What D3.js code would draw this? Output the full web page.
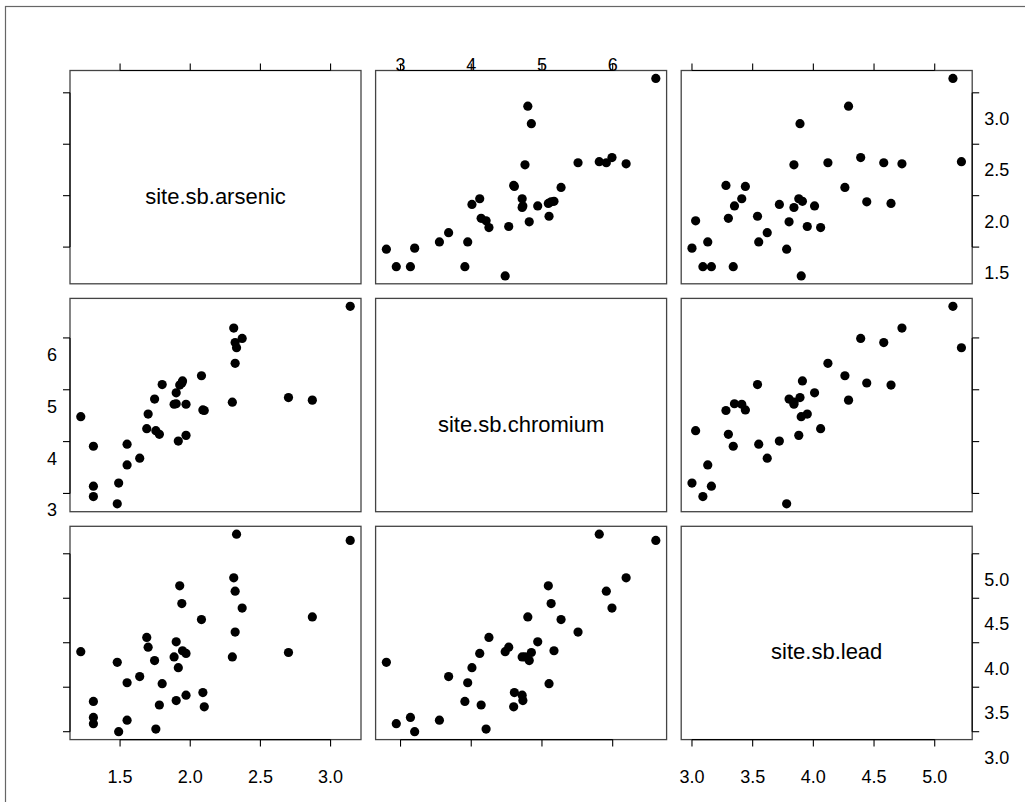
<!DOCTYPE html>
<html>
<head>
<meta charset="utf-8">
<script src="https://cdn.jsdelivr.net/npm/d3@7"></script>
<style>
  body { margin: 0; background: #fff; }
  svg { display: block; font-family: "Liberation Sans", Arial, sans-serif; }
</style>
</head>
<body>
<div id="chart"></div>
<script>
const arsenic = [2.33, 3.14, 2.31, 2.32, 2.37, 1.925, 1.94, 2.08, 2.87, 2.32, 1.69, 1.90,
  1.70, 1.22, 1.945, 1.97, 2.70, 2.30, 1.885, 1.48, 1.746, 1.915, 1.64, 1.55,
  1.80, 2.09, 1.97, 1.31, 1.90, 1.78, 2.10, 1.31, 1.31, 1.55, 1.49, 1.755];
const chromium = [5.81, 6.61, 6.19, 5.91, 5.99, 5.09, 5.13, 5.27, 4.80, 5.51, 4.25, 4.94,
  4.53, 4.48, 5.17, 4.12, 4.85, 4.76, 4.72, 2.80, 4.82, 4.01, 3.68, 3.95,
  5.10, 4.61, 4.72, 3.91, 4.73, 4.14, 4.60, 3.14, 2.94, 3.55, 3.20, 4.21];
const lead = [5.22, 5.15, 4.73, 4.58, 4.39, 4.64, 4.44, 4.26, 4.29, 4.12, 4.06, 4.01,
  3.95, 3.90, 3.91, 3.88, 3.89, 3.84, 3.84, 3.78, 3.80, 3.72, 3.62, 3.55,
  3.54, 3.44, 3.41, 3.34, 3.35, 3.30, 3.28, 3.16, 3.09, 3.13, 3.00, 3.03];

const varNames = ["site.sb.arsenic", "site.sb.chromium", "site.sb.lead"];
const arsenicTicks = [1.5, 2.0, 2.5, 3.0];
const chromiumTicks = [3, 4, 5, 6];
const leadTicks = [3.0, 3.5, 4.0, 4.5, 5.0];

(() => {
  const width = 1025, height = 802;
  const left = 70, top = 70.5, cw = 291, ch = 213.3, gap = 14.6;
  const tickLen = 7;

  const vars = [arsenic, chromium, lead];
  const ticks = [arsenicTicks, chromiumTicks, leadTicks];
  const fmt = [d3.format(".1f"), d3.format("d"), d3.format(".1f")];

  const colX = i => left + i * (cw + gap);
  const rowY = i => top + i * (ch + gap);

  // R style: range widened by 4% on each side
  const dom = v => {
    const [lo, hi] = d3.extent(v);
    const r = hi - lo;
    return [lo - 0.04 * r, hi + 0.04 * r];
  };
  const xs = vars.map((v, i) => d3.scaleLinear().domain(dom(v)).range([colX(i), colX(i) + cw]));
  const ys = vars.map((v, i) => d3.scaleLinear().domain(dom(v)).range([rowY(i) + ch, rowY(i)]));

  const svg = d3.select("#chart").append("svg")
    .attr("width", width).attr("height", height);

  // outer frame of the device
  svg.append("rect")
    .attr("x", 5.5).attr("y", 6.5)
    .attr("width", width + 20).attr("height", height + 20)
    .attr("fill", "none").attr("stroke", "#666").attr("stroke-width", 1.2);

  const n = vars.length;
  for (let r = 0; r < n; r++) {
    for (let c = 0; c < n; c++) {
      const g = svg.append("g");
      if (r === c) {
        g.append("text")
          .attr("x", colX(c) + cw / 2)
          .attr("y", rowY(r) + ch / 2 + 19)
          .attr("text-anchor", "middle")
          .attr("dominant-baseline", "central")
          .attr("font-size", 22)
          .attr("fill", "#000")
          .text(varNames[r]);
      } else {
        const pts = d3.range(arsenic.length).map(i => [vars[c][i], vars[r][i]]);
        g.selectAll("circle")
          .data(pts)
          .join("circle")
          .attr("cx", d => xs[c](d[0]))
          .attr("cy", d => ys[r](d[1]))
          .attr("r", 4.6)
          .attr("fill", "#000");
      }
      g.append("rect")
        .attr("x", colX(c)).attr("y", rowY(r))
        .attr("width", cw).attr("height", ch)
        .attr("fill", "none").attr("stroke", "#444").attr("stroke-width", 1.3);
    }
  }

  // draws an axis the way base R does: line from first to last tick, ticks outward
  function drawAxis(side, k, pos, withLabels) {
    const g = svg.append("g").attr("stroke", "#000").attr("stroke-width", 1.1);
    const tv = ticks[k];
    if (side === "top" || side === "bottom") {
      const s = xs[k];
      const dir = side === "top" ? -1 : 1;
      g.append("line")
        .attr("x1", s(tv[0])).attr("x2", s(tv[tv.length - 1]))
        .attr("y1", pos).attr("y2", pos);
      g.selectAll("line.t").data(tv).join("line").attr("class", "t")
        .attr("x1", d => s(d)).attr("x2", d => s(d))
        .attr("y1", pos).attr("y2", pos + dir * tickLen);
      if (withLabels) {
        svg.append("g").selectAll("text").data(tv).join("text")
          .attr("x", d => s(d))
          .attr("y", side === "top" ? pos - 6 : pos + 37)
          .attr("text-anchor", "middle")
          .attr("dominant-baseline", "central")
          .attr("font-size", 18)
          .text(d => fmt[k](d));
      }
    } else {
      const s = ys[k];
      const dir = side === "left" ? -1 : 1;
      g.append("line")
        .attr("y1", s(tv[0])).attr("y2", s(tv[tv.length - 1]))
        .attr("x1", pos).attr("x2", pos);
      g.selectAll("line.t").data(tv).join("line").attr("class", "t")
        .attr("y1", d => s(d)).attr("y2", d => s(d))
        .attr("x1", pos).attr("x2", pos + dir * tickLen);
      if (withLabels) {
        svg.append("g").selectAll("text").data(tv).join("text")
          .attr("x", side === "left" ? pos - 13 : pos + 12)
          .attr("y", d => s(d) + (side === "left" ? 17 : 26))
          .attr("text-anchor", side === "left" ? "end" : "start")
          .attr("dominant-baseline", "central")
          .attr("font-size", 18)
          .text(d => fmt[k](d));
      }
    }
  }

  const bottomY = rowY(n - 1) + ch;
  const rightX = colX(n - 1) + cw;
  for (let i = 0; i < n; i++) {
    drawAxis("top", i, top, i % 2 === 1);
    drawAxis("bottom", i, bottomY, i % 2 === 0);
    drawAxis("left", i, left, i % 2 === 1);
    drawAxis("right", i, rightX, i % 2 === 0);
  }
})();
</script>
</body>
</html>
